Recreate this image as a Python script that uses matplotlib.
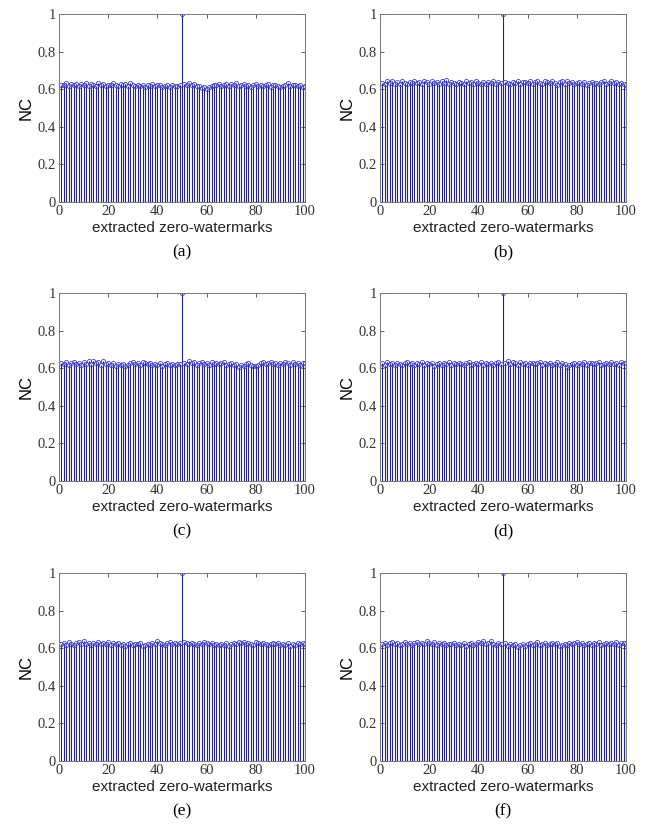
import matplotlib
matplotlib.use("Agg")
import matplotlib.pyplot as plt
from matplotlib.ticker import FuncFormatter
import numpy as np

x_idx = list(range(1, 101))

nc_a = [0.625,0.620,0.632,0.618,0.628,0.622,0.630,0.615,0.627,0.621,
        0.633,0.619,0.626,0.624,0.618,0.631,0.622,0.628,0.616,0.625,
        0.620,0.634,0.623,0.617,0.629,0.621,0.626,0.619,0.632,0.624,
        0.615,0.621,0.618,0.624,0.613,0.622,0.619,0.626,0.616,0.620,
        0.623,0.612,0.618,0.621,0.614,0.620,0.617,0.619,0.622,1.000,
        0.628,0.624,0.633,0.621,0.627,0.619,0.615,0.605,0.610,0.602,
        0.612,0.618,0.625,0.620,0.629,0.616,0.623,0.630,0.619,0.626,
        0.621,0.632,0.617,0.624,0.628,0.619,0.625,0.613,0.622,0.627,
        0.618,0.624,0.616,0.621,0.626,0.614,0.620,0.623,0.617,0.612,
        0.619,0.625,0.631,0.618,0.624,0.620,0.615,0.622,0.611,0.618]

nc_b = [0.635,0.628,0.641,0.632,0.645,0.630,0.638,0.626,0.643,0.634,
        0.629,0.640,0.633,0.646,0.631,0.637,0.627,0.642,0.636,0.630,
        0.644,0.632,0.639,0.628,0.641,0.634,0.647,0.630,0.638,0.633,
        0.626,0.640,0.635,0.629,0.643,0.631,0.637,0.628,0.642,0.634,
        0.630,0.639,0.627,0.636,0.633,0.641,0.629,0.638,0.632,1.000,
        0.640,0.634,0.628,0.637,0.631,0.643,0.629,0.636,0.640,0.633,
        0.645,0.630,0.638,0.642,0.635,0.627,0.644,0.639,0.631,0.646,
        0.634,0.625,0.637,0.641,0.628,0.643,0.632,0.638,0.626,0.635,
        0.640,0.629,0.636,0.622,0.633,0.639,0.627,0.634,0.630,0.637,
        0.641,0.628,0.635,0.643,0.631,0.638,0.626,0.634,0.629,0.624]

nc_c = [0.628,0.620,0.635,0.617,0.626,0.631,0.622,0.629,0.615,0.633,
        0.624,0.637,0.621,0.640,0.627,0.632,0.619,0.636,0.623,0.629,
        0.617,0.625,0.612,0.620,0.615,0.623,0.610,0.619,0.627,0.631,
        0.622,0.628,0.618,0.633,0.625,0.620,0.629,0.616,0.624,0.619,
        0.627,0.614,0.621,0.626,0.618,0.623,0.615,0.620,0.624,1.000,
        0.630,0.622,0.636,0.625,0.631,0.619,0.628,0.634,0.621,0.627,
        0.617,0.632,0.624,0.629,0.620,0.626,0.633,0.618,0.624,0.630,
        0.616,0.621,0.608,0.617,0.612,0.620,0.626,0.619,0.613,0.610,
        0.618,0.625,0.632,0.620,0.628,0.635,0.623,0.630,0.617,0.626,
        0.621,0.634,0.627,0.619,0.631,0.624,0.629,0.618,0.625,0.630]

nc_d = [0.626,0.619,0.632,0.622,0.628,0.615,0.630,0.624,0.617,0.627,
        0.633,0.620,0.625,0.618,0.629,0.623,0.631,0.616,0.626,0.621,
        0.628,0.614,0.624,0.630,0.619,0.627,0.622,0.632,0.617,0.625,
        0.620,0.629,0.623,0.615,0.626,0.631,0.618,0.624,0.628,0.621,
        0.633,0.619,0.627,0.622,0.630,0.616,0.625,0.634,0.624,1.000,
        0.629,0.638,0.622,0.631,0.626,0.619,0.633,0.624,0.628,0.617,
        0.625,0.630,0.621,0.627,0.634,0.619,0.626,0.622,0.629,0.615,
        0.623,0.631,0.618,0.626,0.621,0.605,0.616,0.624,0.630,0.619,
        0.627,0.622,0.633,0.617,0.625,0.629,0.620,0.626,0.632,0.618,
        0.624,0.628,0.621,0.635,0.623,0.627,0.619,0.631,0.625,0.629]

nc_e = [0.622,0.629,0.617,0.631,0.624,0.619,0.627,0.633,0.621,0.636,
        0.625,0.630,0.618,0.628,0.623,0.632,0.620,0.627,0.624,0.631,
        0.617,0.626,0.622,0.630,0.619,0.625,0.614,0.621,0.628,0.616,
        0.624,0.620,0.627,0.612,0.619,0.623,0.617,0.626,0.621,0.638,
        0.629,0.624,0.618,0.627,0.633,0.620,0.626,0.622,0.629,1.000,
        0.634,0.627,0.621,0.630,0.625,0.618,0.628,0.623,0.632,0.626,
        0.620,0.629,0.617,0.624,0.615,0.622,0.619,0.626,0.613,0.621,
        0.628,0.624,0.634,0.627,0.631,0.622,0.629,0.625,0.618,0.632,
        0.626,0.620,0.628,0.623,0.617,0.625,0.630,0.621,0.627,0.615,
        0.624,0.619,0.628,0.612,0.622,0.618,0.626,0.621,0.629,0.624]

nc_f = [0.624,0.630,0.619,0.627,0.633,0.621,0.628,0.616,0.625,0.631,
        0.622,0.629,0.618,0.626,0.634,0.620,0.627,0.623,0.638,0.629,
        0.624,0.631,0.619,0.626,0.622,0.630,0.617,0.625,0.621,0.628,
        0.615,0.623,0.619,0.627,0.613,0.621,0.626,0.618,0.624,0.632,
        0.627,0.636,0.622,0.629,0.640,0.624,0.619,0.627,0.621,1.000,
        0.626,0.611,0.620,0.615,0.623,0.608,0.617,0.622,0.614,0.621,
        0.627,0.619,0.625,0.631,0.618,0.624,0.629,0.616,0.623,0.627,
        0.620,0.626,0.612,0.619,0.624,0.617,0.629,0.622,0.627,0.633,
        0.621,0.628,0.616,0.624,0.630,0.619,0.626,0.622,0.631,0.618,
        0.625,0.629,0.620,0.627,0.623,0.632,0.619,0.626,0.630,0.624]

panels = [nc_a, nc_b, nc_c, nc_d, nc_e, nc_f]
captions = ["(a)", "(b)", "(c)", "(d)", "(e)", "(f)"]

x_ticks = [0, 20, 40, 60, 80, 100]
y_ticks = [0, 0.2, 0.4, 0.6, 0.8, 1]

W, H = 653, 827
fig = plt.figure(figsize=(W / 100, H / 100), dpi=100)

lefts = [59, 380]
tops = [14, 293, 573]
aw, ah = 246, 188

serif = ["Liberation Serif", "DejaVu Serif"]
sans = ["Liberation Sans", "DejaVu Sans"]

for i, vals in enumerate(panels):
    r, c = divmod(i, 2)
    l = lefts[c]
    t = tops[r]
    ax = fig.add_axes([l / W, (H - t - ah) / H, aw / W, ah / H])
    ml, sl, bl = ax.stem(x_idx, vals, linefmt="-", markerfmt="o", basefmt="-")
    plt.setp(sl, color="#22228f", linewidth=0.8)
    plt.setp(ml, markerfacecolor="none", markeredgecolor="#4040c8",
             markersize=3, markeredgewidth=0.6)
    plt.setp(bl, color="#101060", linewidth=0.8)
    ax.set_xlim(0, 100)
    ax.set_ylim(0, 1)
    ax.set_xticks(x_ticks)
    ax.set_yticks(y_ticks)
    ax.yaxis.set_major_formatter(FuncFormatter(lambda v, p: "%g" % v))
    ax.tick_params(direction="in", top=True, right=True, length=3,
                   width=0.6, pad=2, labelsize=10.5, color="#444444")
    for lab in ax.get_xticklabels() + ax.get_yticklabels():
        lab.set_family(serif)
        lab.set_color("#333333")
    for sp in ax.spines.values():
        sp.set_color("#777777")
        sp.set_linewidth(0.7)
    ax.set_ylabel("NC", family=sans, fontsize=12, labelpad=3)
    ax.set_xlabel("extracted zero-watermarks", family=sans, fontsize=11,
                  labelpad=2, color="#222222")
    cx = (l + aw / 2) / W
    cy = (H - (t + 238)) / H
    fig.text(cx, cy, captions[i], family=serif, fontsize=12.5,
             ha="center", va="center")

fig.savefig("out.png", dpi=100)
